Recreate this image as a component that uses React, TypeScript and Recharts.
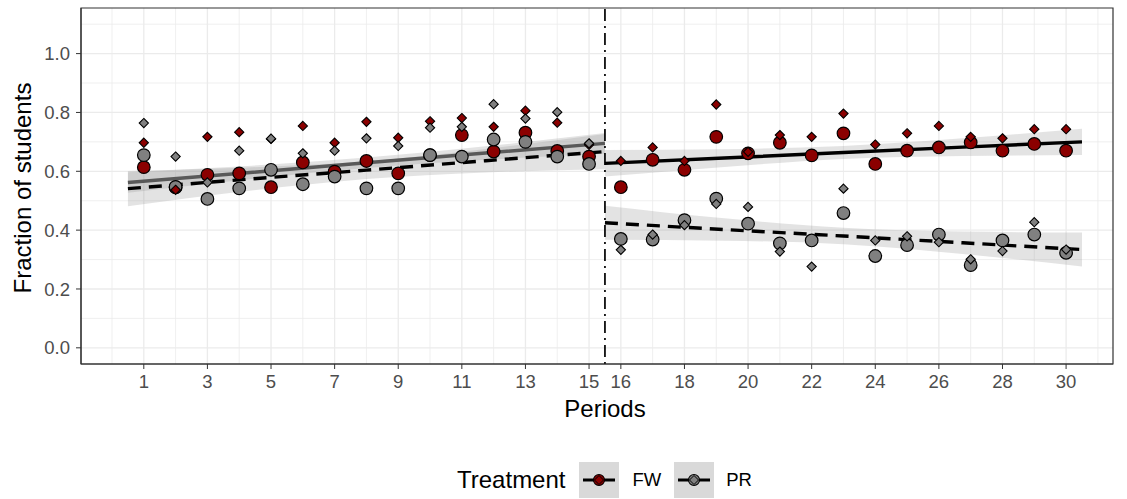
import {
  ComposedChart,
  XAxis,
  YAxis,
  CartesianGrid,
  Scatter,
  Line,
  Area,
  ReferenceLine,
  ReferenceArea,
  Label,
} from "recharts";

// periods 1..30, break between 15 and 16
const periods = [
  1, 2, 3, 4, 5, 6, 7, 8, 9, 10, 11, 12, 13, 14, 15,
  16, 17, 18, 19, 20, 21, 22, 23, 24, 25, 26, 27, 28, 29, 30,
];

// FW: big circles / small diamonds
const fwMean = [
  0.614, 0.545, 0.588, 0.593, 0.546, 0.63, 0.599, 0.635, 0.593, 0.655, 0.723, 0.667, 0.731, 0.669, 0.65,
  0.546, 0.639, 0.605, 0.717, 0.661, 0.697, 0.654, 0.729, 0.625, 0.67, 0.681, 0.698, 0.67, 0.693, 0.67,
];
const fwOther = [
  0.697, 0.537, 0.717, 0.733, 0.71, 0.754, 0.697, 0.768, 0.714, 0.77, 0.781, 0.751, 0.806, 0.765, 0.69,
  0.635, 0.681, 0.635, 0.827, 0.666, 0.723, 0.717, 0.796, 0.691, 0.729, 0.754, 0.717, 0.712, 0.743, 0.743,
];

// PR: big circles / small diamonds
const prMean = [
  0.655, 0.547, 0.506, 0.542, 0.605, 0.556, 0.582, 0.542, 0.542, 0.655, 0.65, 0.708, 0.7, 0.65, 0.625,
  0.37, 0.368, 0.434, 0.507, 0.422, 0.355, 0.365, 0.458, 0.312, 0.349, 0.385, 0.281, 0.365, 0.385, 0.323,
];
const prOther = [
  0.764, 0.65, 0.562, 0.67, 0.711, 0.661, 0.67, 0.712, 0.686, 0.748, 0.751, 0.828, 0.779, 0.801, 0.695,
  0.333, 0.385, 0.417, 0.489, 0.479, 0.327, 0.276, 0.541, 0.365, 0.379, 0.359, 0.301, 0.329, 0.427, 0.334,
];

// linear fits with confidence bands, before / after the break
const fitLeftX = [0.5, 4.25, 8, 11.75, 15.5];
const fitRightX = [15.5, 19.25, 23, 26.75, 30.5];

const fwLeftFit = [0.562, 0.595, 0.629, 0.662, 0.695];
const fwLeftLo = [0.527, 0.572, 0.611, 0.639, 0.66];
const fwLeftHi = [0.597, 0.618, 0.647, 0.685, 0.73];

const prLeftFit = [0.541, 0.573, 0.604, 0.636, 0.667];
const prLeftLo = [0.481, 0.533, 0.574, 0.596, 0.607];
const prLeftHi = [0.601, 0.613, 0.634, 0.676, 0.727];

const fwRightFit = [0.627, 0.645, 0.664, 0.682, 0.7];
const fwRightLo = [0.582, 0.615, 0.642, 0.652, 0.655];
const fwRightHi = [0.672, 0.675, 0.686, 0.712, 0.745];

const prRightFit = [0.425, 0.402, 0.38, 0.357, 0.334];
const prRightLo = [0.367, 0.364, 0.352, 0.319, 0.276];
const prRightHi = [0.483, 0.44, 0.408, 0.395, 0.392];

const breakAt = 15.5;

const xTicks = [1, 3, 5, 7, 9, 11, 13, 15, 16, 18, 20, 22, 24, 26, 28, 30];
const xMinor = [0, 2, 4, 6, 8, 10, 12, 14, 17, 19, 21, 23, 25, 27, 29, 31];
const yTicks = [0, 0.2, 0.4, 0.6, 0.8, 1.0];
const yMinor = [0.1, 0.3, 0.5, 0.7, 0.9, 1.1];

const xDomain = [-0.975, 31.475];
const yDomain = [-0.055, 1.155];

const RED = "#8b0000";
const GREY = "#808080";
const FONT = '"Liberation Sans", Arial, Helvetica, sans-serif';

const pts = (vals: number[]) => periods.map((p, i) => ({ x: p, y: vals[i] }));
const fit = (xs: number[], ys: number[]) => xs.map((x, i) => ({ x, y: ys[i] }));
const band = (xs: number[], lo: number[], hi: number[]) =>
  xs.map((x, i) => ({ x, range: [lo[i], hi[i]] }));

const circle = (fill: string) => (props: any) => (
  <circle cx={props.cx} cy={props.cy} r={6.3} fill={fill} stroke="#000" strokeWidth={1.2} />
);

const diamond = (fill: string) => (props: any) => {
  const { cx, cy } = props;
  const s = 4.6;
  return (
    <polygon
      points={`${cx},${cy - s} ${cx + s},${cy} ${cx},${cy + s} ${cx - s},${cy}`}
      fill={fill}
      stroke="#000"
      strokeWidth={1.1}
    />
  );
};

function LegendKey({ fill }: { fill: string }) {
  return (
    <svg width={40} height={36} style={{ display: "block" }}>
      <rect x={0} y={0} width={40} height={36} fill="#d9d9d9" />
      <line x1={4} y1={18} x2={36} y2={18} stroke="#000" strokeWidth={3} />
      <circle cx={20} cy={18} r={5.5} fill={fill} stroke="#000" strokeWidth={1.1} />
      <polygon points="20,13.5 24.5,18 20,22.5 15.5,18" fill={fill} stroke="#000" strokeWidth={1} />
    </svg>
  );
}

export default function App() {
  return (
    <div
      style={{
        position: "absolute",
        left: 0,
        top: 0,
        width: 1127,
        height: 499,
        background: "#fff",
        fontFamily: FONT,
      }}
    >
      <ComposedChart width={1127} height={499} margin={{ top: 8, right: 14, bottom: 75, left: 0 }}>
        <CartesianGrid stroke="#ebebeb" strokeWidth={0.8} verticalValues={xMinor} horizontalValues={yMinor} />
        <CartesianGrid stroke="#ebebeb" strokeWidth={1.3} verticalValues={xTicks} horizontalValues={yTicks} />
        <XAxis
          type="number"
          dataKey="x"
          domain={xDomain}
          allowDataOverflow
          ticks={xTicks}
          interval={0}
          height={60}
          tickSize={5}
          tickMargin={6}
          tick={{ fontSize: 18.5, fill: "#4d4d4d" }}
          tickLine={{ stroke: "#333" }}
          axisLine={{ stroke: "#333", strokeWidth: 1.1 }}
        >
          <Label
            content={() => (
              <text x={605} y={417} textAnchor="middle" fontSize={24} fill="#000" fontFamily={FONT}>
                Periods
              </text>
            )}
          />
        </XAxis>
        <YAxis
          type="number"
          dataKey="y"
          domain={yDomain}
          allowDataOverflow
          ticks={yTicks}
          interval={0}
          width={81}
          tickSize={5}
          tickMargin={6}
          tickFormatter={(v: number) => v.toFixed(1)}
          tick={{ fontSize: 18.5, fill: "#4d4d4d" }}
          tickLine={{ stroke: "#333" }}
          axisLine={{ stroke: "#333", strokeWidth: 1.1 }}
        >
          <Label
            content={() => (
              <text
                x={22}
                y={188}
                transform="rotate(-90 22 188)"
                textAnchor="middle"
                dominantBaseline="central"
                fontSize={24}
                fill="#000"
                fontFamily={FONT}
              >
                Fraction of students
              </text>
            )}
          />
        </YAxis>

        <Area data={band(fitLeftX, prLeftLo, prLeftHi)} dataKey="range" type="monotone" stroke="none" fill="#999999" fillOpacity={0.27} isAnimationActive={false} />
        <Area data={band(fitLeftX, fwLeftLo, fwLeftHi)} dataKey="range" type="monotone" stroke="none" fill="#999999" fillOpacity={0.27} isAnimationActive={false} />
        <Area data={band(fitRightX, prRightLo, prRightHi)} dataKey="range" type="monotone" stroke="none" fill="#999999" fillOpacity={0.27} isAnimationActive={false} />
        <Area data={band(fitRightX, fwRightLo, fwRightHi)} dataKey="range" type="monotone" stroke="none" fill="#999999" fillOpacity={0.27} isAnimationActive={false} />

        <Line data={fit(fitLeftX, fwLeftFit)} dataKey="y" type="linear" stroke="#595959" strokeWidth={3.4} dot={false} activeDot={false} isAnimationActive={false} />
        <Line data={fit(fitLeftX, prLeftFit)} dataKey="y" type="linear" stroke="#000" strokeWidth={3.4} strokeDasharray="13 8" dot={false} activeDot={false} isAnimationActive={false} />
        <Line data={fit(fitRightX, fwRightFit)} dataKey="y" type="linear" stroke="#000" strokeWidth={3.4} dot={false} activeDot={false} isAnimationActive={false} />
        <Line data={fit(fitRightX, prRightFit)} dataKey="y" type="linear" stroke="#000" strokeWidth={3.4} strokeDasharray="13 8" dot={false} activeDot={false} isAnimationActive={false} />

        <Scatter name="FW" data={pts(fwMean)} dataKey="y" shape={circle(RED)} isAnimationActive={false} />
        <Scatter name="PR" data={pts(prMean)} dataKey="y" shape={circle(GREY)} isAnimationActive={false} />
        <Scatter name="FW other" data={pts(fwOther)} dataKey="y" shape={diamond(RED)} isAnimationActive={false} />
        <Scatter name="PR other" data={pts(prOther)} dataKey="y" shape={diamond(GREY)} isAnimationActive={false} />

        <ReferenceLine x={breakAt} stroke="#000" strokeWidth={1.7} strokeDasharray="2 5 12 5" />
        <ReferenceArea
          x1={xDomain[0]}
          x2={xDomain[1]}
          y1={yDomain[0]}
          y2={yDomain[1]}
          fill="none"
          stroke="#333"
          strokeWidth={1.2}
        />
      </ComposedChart>

      <div
        style={{
          position: "absolute",
          left: 457,
          top: 462,
          height: 36,
          display: "flex",
          alignItems: "center",
        }}
      >
        <span style={{ fontSize: 24, marginRight: 14 }}>Treatment</span>
        <LegendKey fill={RED} />
        <span style={{ fontSize: 18.5, marginLeft: 13, marginRight: 13 }}>FW</span>
        <LegendKey fill={GREY} />
        <span style={{ fontSize: 18.5, marginLeft: 12 }}>PR</span>
      </div>
    </div>
  );
}
